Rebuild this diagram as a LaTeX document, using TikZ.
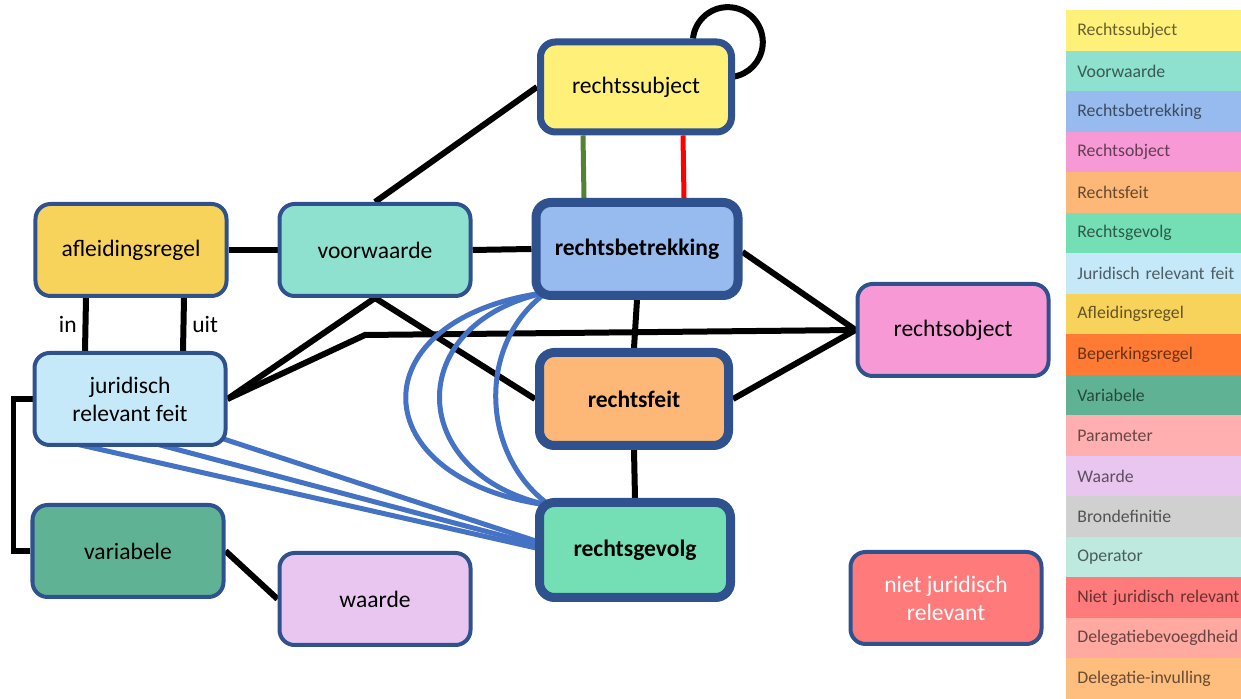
\documentclass[tikz,border=0pt]{standalone}
\usepackage{fontspec}
\setmainfont{Carlito}
\usetikzlibrary{backgrounds}

\definecolor{rand}{HTML}{2F528F}
\definecolor{relblauw}{HTML}{4472C4}
\definecolor{groen}{HTML}{548235}
\definecolor{cSubject}{HTML}{FFF07A}
\definecolor{cVoorwaarde}{HTML}{8EE0CF}
\definecolor{cBetrekking}{HTML}{97BBEF}
\definecolor{cObject}{HTML}{F799D5}
\definecolor{cFeit}{HTML}{FDB877}
\definecolor{cGevolg}{HTML}{74DFB5}
\definecolor{cJrf}{HTML}{C5E9F9}
\definecolor{cAfleiding}{HTML}{F8D35C}
\definecolor{cBeperking}{HTML}{FF7B33}
\definecolor{cVariabele}{HTML}{5FB394}
\definecolor{cParameter}{HTML}{FFAFAF}
\definecolor{cWaarde}{HTML}{E8C6F0}
\definecolor{cBron}{HTML}{D0D0D0}
\definecolor{cOperator}{HTML}{BDE9DF}
\definecolor{cNiet}{HTML}{FF7A7A}
\definecolor{cDelBev}{HTML}{FFA9A1}
\definecolor{cDelInv}{HTML}{FFBE7D}

\begin{document}
\begin{tikzpicture}[
  blok/.style = {draw=rand, line width=0.08cm, rounded corners=0.3cm, minimum width=3.82cm,
    minimum height=1.84cm, align=center, font=\fontsize{13.4}{16}\selectfont},
  zwaar/.style = {blok, line width=0.18cm, minimum height=1.86cm, font=\fontsize{13.4}{16}\selectfont\bfseries},
  link/.style = {line width=0.12cm},
  rel/.style = {line width=0.1cm, relblauw},
  legenda/.style = {anchor=north west, minimum height=0.81cm, text width=3.06cm, inner xsep=0.22cm,
    align=left, font=\fontsize{10.1}{12}\selectfont},
  ]
  \useasboundingbox (0,0) rectangle (24.82,13.98);

  \node[blok, fill=cSubject, line width=0.14cm, minimum height=1.8cm] (rs) at (12.72,12.24) {rechtssubject};
  \node[blok, fill=cAfleiding] (afl) at (2.62,8.98) {afleidingsregel};
  \node[blok, fill=cVoorwaarde] (vw) at (7.50,8.98) {voorwaarde};
  \node[zwaar, fill=cBetrekking, minimum width=4.04cm] (rb) at (12.74,9.00) {rechtsbetrekking};
  \node[blok, fill=cObject] (ro) at (19.06,7.38) {rechtsobject};
  \node[blok, fill=cJrf] (jrf) at (2.60,6.00) {juridisch\\relevant feit};
  \node[zwaar, fill=cFeit, minimum width=3.78cm] (rf) at (12.68,6.00) {rechtsfeit};
  \node[blok, fill=cVariabele] (var) at (2.56,2.96) {variabele};
  \node[blok, fill=cWaarde] (wa) at (7.50,2.00) {waarde};
  \node[zwaar, fill=cGevolg, minimum height=1.9cm] (rg) at (12.70,2.98) {rechtsgevolg};
  \node[blok, fill=cNiet, text=white] (njr) at (18.92,2.02) {niet juridisch\\relevant};

  \coordinate (knik) at (7.30,7.28);

  \begin{scope}[on background layer]
    % zwarte verbindingen
    \draw[link] (vw.north) -- (rs.west);
    \draw[link] ([xshift=-0.84cm]rs.north east) arc[start angle=174, end angle=-82, radius=0.7cm];
    \draw[link] (afl.east) -- (vw.west);
    \draw[link] (vw.east) -- (rb.west);
    \draw[link] ([xshift=-0.9cm]afl.south) -- node[left, font=\fontsize{13.4}{16}\selectfont] {in} ([xshift=-0.9cm]jrf.north);
    \draw[link] ([xshift=1.06cm]afl.south) -- node[right, font=\fontsize{13.4}{16}\selectfont] {uit} ([xshift=1.06cm]jrf.north);
    \draw[link] (jrf.east) -- (vw.south);
    \draw[link] (jrf.east) -- (knik) -- (ro.west);
    \draw[link] (vw.south) -- (rf.west);
    \draw[link] ([yshift=-0.06cm]rb.east) -- (ro.west);
    \draw[link] (rf.east) -- (ro.west);
    \draw[link] (rb.south) -- (rf.north);
    \draw[link] (rf.south) -- (rg.north);
    \draw[link] (jrf.west) -- ++(-0.38,0) |- (var.west);
    \draw[link] (var.east) -- (wa.west);

    % gekleurde verbindingen
    \draw[line width=0.1cm, groen] ([xshift=-1.06cm]rs.south) -- ([xshift=-1.06cm]rb.north);
    \draw[line width=0.1cm, red] ([xshift=0.94cm]rs.south) -- ([xshift=0.94cm]rb.north);

    \draw[rel] ([shift={(0.3,0.15)}]rb.south west) .. controls +(-3.8,-0.5) and +(-3.8,0.5) .. ([shift={(0.3,-0.15)}]rg.north west);
    \draw[rel] ([shift={(0.3,0.15)}]rb.south west) .. controls +(-2.9,-0.6) and +(-2.9,0.6) .. ([shift={(0.3,-0.15)}]rg.north west);
    \draw[rel] ([shift={(0.3,0.15)}]rb.south west) .. controls +(-1.4,-1.0) and +(-1.4,1.0) .. ([shift={(0.3,-0.15)}]rg.north west);
    \draw[rel] ([shift={(0.25,0.2)}]jrf.south west) -- ([xshift=0.2cm]rg.west);
    \draw[rel] ([yshift=0.2cm]jrf.south) -- ([shift={(0.2,0.06)}]rg.west);
    \draw[rel] ([shift={(-0.2,0.2)}]jrf.south east) -- ([shift={(0.2,0.12)}]rg.west);
  \end{scope}

  % legenda
  \foreach \naam/\kleur [count=\i from 0] in {Rechtssubject/cSubject, Voorwaarde/cVoorwaarde,
      Rechtsbetrekking/cBetrekking, Rechtsobject/cObject, Rechtsfeit/cFeit, Rechtsgevolg/cGevolg,
      Juridisch relevant feit/cJrf, Afleidingsregel/cAfleiding, Beperkingsregel/cBeperking,
      Variabele/cVariabele, Parameter/cParameter, Waarde/cWaarde, Brondefinitie/cBron,
      Operator/cOperator, Niet juridisch relevant/cNiet, Delegatiebevoegdheid/cDelBev,
      Delegatie-invulling/cDelInv} {
    \node[legenda, fill=\kleur, text=\kleur!40!black] (leg\i) at (21.32,13.78-0.81*\i) {\mbox{\naam}};
  }
\end{tikzpicture}
\end{document}
